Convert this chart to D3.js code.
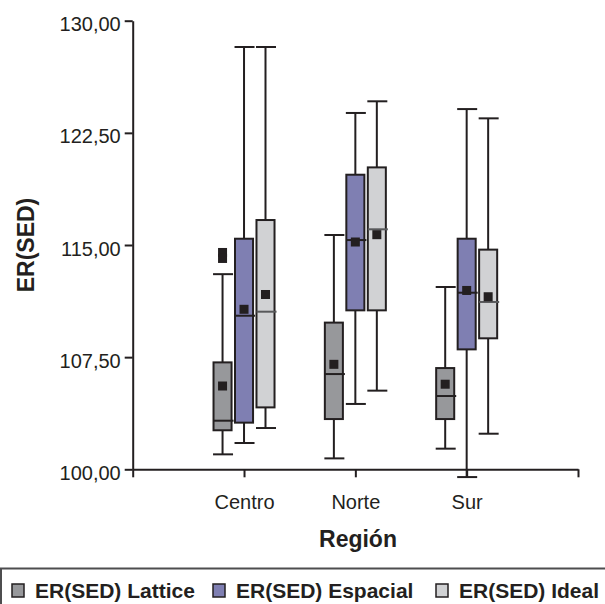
<!DOCTYPE html>
<html lang='es'>
  <head>
    <meta charset='utf-8'>
    <title>ER(SED) por Región</title>
    <script type='text/javascript' src='https://cdn.jsdelivr.net/npm/d3@7'></script>
    <style>
      body { margin: 0; background: #fff; }
      text { font-family: 'Liberation Sans', Arial, sans-serif; fill: #231f20; }
    </style>
  </head>
  <body>
    <script type='text/javascript'>

      // categorias y series
      var regiones = ['Centro', 'Norte', 'Sur'];
      var series = ['ER(SED) Lattice', 'ER(SED) Espacial', 'ER(SED) Ideal'];
      var yTicks = [100, 107.5, 115, 122.5, 130];

      // valores: [Centro, Norte, Sur]
      var latticeMin  = [101.00, 100.73, 101.38];
      var latticeQ1   = [102.61, 103.36, 103.36];
      var latticeMed  = [103.25, 106.37, 104.90];
      var latticeQ3   = [107.15, 109.81, 106.77];
      var latticeMax  = [113.05, 115.67, 112.19];
      var latticeMean = [105.57, 107.02, 105.69];
      var latticeOut  = [[114.50, 114.10], [], []];

      var espacialMin  = [101.76, 104.37, 99.48];
      var espacialQ1   = [103.12, 110.63, 108.02];
      var espacialMed  = [110.27, 115.33, 111.81];
      var espacialQ3   = [115.42, 119.70, 115.42];
      var espacialMax  = [128.24, 123.83, 124.09];
      var espacialMean = [110.70, 115.20, 111.96];
      var espacialOut  = [[], [], []];

      var idealMin  = [102.76, 105.26, 102.38];
      var idealQ1   = [104.14, 110.63, 108.76];
      var idealMed  = [110.54, 116.05, 111.19];
      var idealQ3   = [116.67, 120.19, 114.69];
      var idealMax  = [128.24, 124.61, 123.47];
      var idealMean = [111.69, 115.69, 111.54];
      var idealOut  = [[], [], []];

      var colores = ['#97989b', '#7f7fb2', '#d1d2d4'];
      var medColores = ['#231f20', '#231f20', '#58595b'];
      var ink = '#231f20';

      var w = 605;
      var h = 604;

      var svg = d3.select('body')
                  .append('svg')
                  .attr('width', w)
                  .attr('height', h);

      var cols = [
        [latticeMin, latticeQ1, latticeMed, latticeQ3, latticeMax, latticeMean, latticeOut],
        [espacialMin, espacialQ1, espacialMed, espacialQ3, espacialMax, espacialMean, espacialOut],
        [idealMin, idealQ1, idealMed, idealQ3, idealMax, idealMean, idealOut]
      ];
      var boxes = [];
      series.forEach(function(s, si){
        regiones.forEach(function(r, ri){
          var c = cols[si];
          boxes.push({serie: si, region: ri,
                      min: c[0][ri], q1: c[1][ri], med: c[2][ri], q3: c[3][ri],
                      max: c[4][ri], mean: c[5][ri], out: c[6][ri]});
        });
      });

      var xScale = d3.scaleLinear()
                     .domain([0, regiones.length + 1])
                     .range([132.7, 578]);

      var inner = d3.scaleBand()
                    .domain(d3.range(series.length))
                    .range([-30.5, 30.5])
                    .paddingInner(0.16);

      var yScale = d3.scaleLinear()
                     .domain([100, 130])
                     .range([469.3, 20.7]);

      var es = d3.formatLocale({decimal: ',', thousands: '.', grouping: [3], currency: ['', '']});
      var fmt = es.format('.2f');

      // ejes
      var yAxis = d3.axisLeft(yScale)
                    .tickValues(yTicks)
                    .tickFormat(fmt)
                    .tickSize(8)
                    .tickSizeOuter(0)
                    .tickPadding(4);

      var xAxis = d3.axisBottom(xScale)
                    .tickValues(d3.range(regiones.length + 2))
                    .tickFormat(function(d){
                      return regiones[d - 1] || '';
                    })
                    .tickSize(8)
                    .tickSizeOuter(0)
                    .tickPadding(18);

      var gy = svg.append('g')
                  .attr('transform', 'translate(' + xScale(0) + ',0)')
                  .call(yAxis);
      gy.selectAll('text')
        .attr('font-size', '20px')
        .attr('dy', '0.5em');

      var gx = svg.append('g')
                  .attr('transform', 'translate(0,' + yScale(100) + ')')
                  .call(xAxis);
      gx.selectAll('text')
        .attr('font-size', '20px');

      svg.selectAll('.domain, .tick line')
         .attr('stroke', ink)
         .attr('stroke-width', 2);

      // cajas
      var bw = inner.bandwidth();
      var g = svg.selectAll('g.box')
                 .data(boxes)
                 .enter()
                 .append('g')
                 .attr('class', 'box')
                 .attr('transform', function(d){
                   return 'translate(' + (xScale(d.region + 1) + inner(d.serie) + bw / 2) + ',0)';
                 });

      g.append('line')
       .attr('x1', 0).attr('x2', 0)
       .attr('y1', function(d){ return yScale(d.max); })
       .attr('y2', function(d){ return yScale(d.min); })
       .attr('stroke', ink)
       .attr('stroke-width', 2);

      g.selectAll('line.cap')
       .data(function(d){ return [d.min, d.max]; })
       .enter()
       .append('line')
       .attr('class', 'cap')
       .attr('x1', -9.5).attr('x2', 10.5)
       .attr('y1', function(v){ return yScale(v); })
       .attr('y2', function(v){ return yScale(v); })
       .attr('stroke', ink)
       .attr('stroke-width', 2);

      g.append('rect')
       .attr('x', -bw / 2)
       .attr('y', function(d){ return yScale(d.q3); })
       .attr('width', bw)
       .attr('height', function(d){ return yScale(d.q1) - yScale(d.q3); })
       .attr('fill', function(d){ return colores[d.serie]; })
       .attr('stroke', ink)
       .attr('stroke-width', 2);

      g.append('line')
       .attr('x1', -bw / 2).attr('x2', bw / 2 + 2)
       .attr('y1', function(d){ return yScale(d.med); })
       .attr('y2', function(d){ return yScale(d.med); })
       .attr('stroke', function(d){ return medColores[d.serie]; })
       .attr('stroke-width', 2);

      g.append('rect')
       .attr('x', -4.5).attr('width', 9).attr('height', 9)
       .attr('y', function(d){ return yScale(d.mean) - 4.5; })
       .attr('fill', ink);

      g.selectAll('rect.out')
       .data(function(d){ return d.out; })
       .enter()
       .append('rect')
       .attr('class', 'out')
       .attr('x', -4.5).attr('width', 9).attr('height', 9)
       .attr('y', function(v){ return yScale(v) - 4.5; })
       .attr('fill', ink);

      // titulos
      svg.append('text')
         .text('Región')
         .attr('x', 358)
         .attr('y', 547)
         .attr('text-anchor', 'middle')
         .attr('font-size', '23px')
         .attr('font-weight', 'bold');

      svg.append('text')
         .text('ER(SED)')
         .attr('transform', 'translate(34,245) rotate(-90)')
         .attr('text-anchor', 'middle')
         .attr('font-size', '23px')
         .attr('font-weight', 'bold');

      // leyenda
      svg.append('path')
         .attr('d', 'M1,' + h + 'V568.5H' + w)
         .attr('fill', 'none')
         .attr('stroke', '#4d4d4f')
         .attr('stroke-width', 2);

      var legX = [12, 213, 436];
      var leg = svg.selectAll('g.leg')
                   .data(series)
                   .enter()
                   .append('g')
                   .attr('class', 'leg')
                   .attr('transform', function(d, i){
                     return 'translate(' + legX[i] + ',584)';
                   });
      leg.append('rect')
         .attr('width', 12)
         .attr('height', 13)
         .attr('fill', function(d, i){ return colores[i]; })
         .attr('stroke', ink)
         .attr('stroke-width', 1.5);
      leg.append('text')
         .text(function(d){ return d; })
         .attr('x', 23)
         .attr('y', 14)
         .attr('font-size', '21px')
         .attr('font-weight', 'bold');

    </script>
  </body>
</html>
